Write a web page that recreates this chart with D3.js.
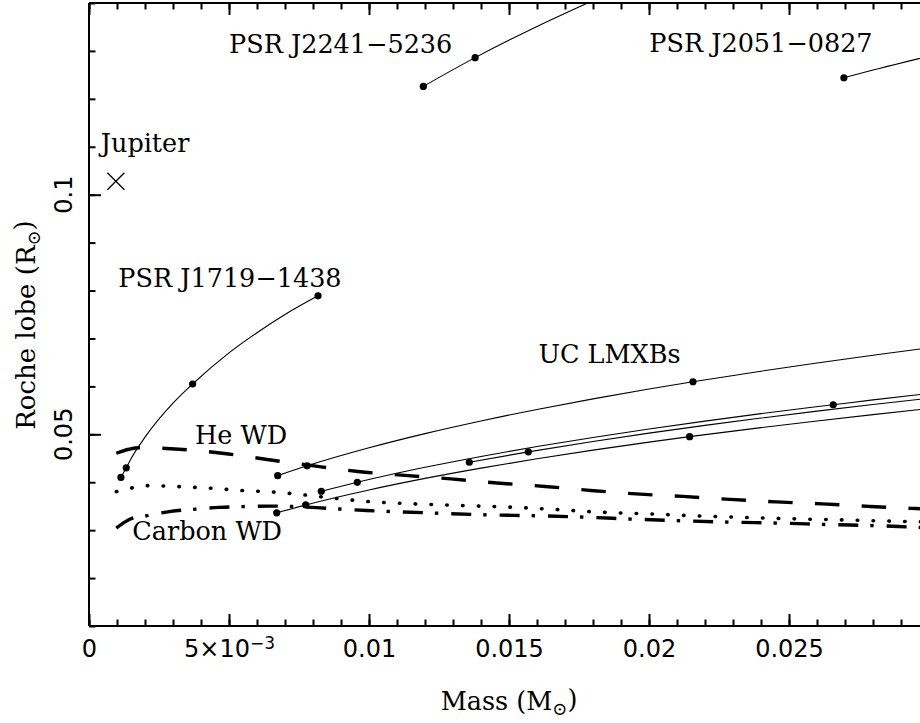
<!DOCTYPE html>
<html><head><meta charset="utf-8">
<script src="https://cdn.jsdelivr.net/npm/d3@7"></script>
<style>body{margin:0;background:#fff} svg{display:block;background:#fff}</style>
</head><body><svg id="c" width="920" height="723"></svg>
<script>
// ---- data (mass in Msun, Roche lobe in Rsun) ----
const xTickValues = [0, 0.005, 0.01, 0.015, 0.02, 0.025];
const xTickLabels = ["0", "5×10|−3", "0.01", "0.015", "0.02", "0.025"];
const yTickValues = [0.05, 0.1];
const yTickLabels = ["0.05", "0.1"];

const jupiter = [[0.00096, 0.1028]];

const psrJ1719 = [[0.00114,0.0410],[0.00133,0.0430],[0.0015,0.0449],[0.002,0.0494],[0.003,0.0565],[0.0037,0.0605],[0.005,0.0670],[0.006,0.0712],[0.007,0.0750],[0.00818,0.0789]];
const psrJ1719Dots = [[0.00114,0.0410],[0.00133,0.0430],[0.0037,0.0605],[0.00818,0.0789]];

const psrJ2241 = [[0.01194,0.1226],[0.01379,0.1286],[0.016,0.1351],[0.018,0.1405]];
const psrJ2241Dots = [[0.01194,0.1226],[0.01379,0.1286]];

const psrJ2051 = [[0.02696,0.1244],[0.028,0.1260],[0.030,0.1289]];
const psrJ2051Dots = [[0.02696,0.1244]];

const ucA = [[0.00674,0.04137],[0.00779,0.04342],[0.010,0.04718],[0.012,0.05014],[0.014,0.05278],[0.016,0.05518],[0.018,0.05739],[0.020,0.05945],[0.02157,0.06097],[0.024,0.06317],[0.026,0.06488],[0.028,0.0665],[0.030,0.06805]];
const ucADots = [[0.00674,0.04137],[0.00779,0.04342],[0.02157,0.06097]];
const ucB = [[0.008296,0.03812],[0.009582,0.03999],[0.012,0.04311],[0.014,0.04538],[0.016,0.04745],[0.018,0.04935],[0.020,0.05111],[0.022,0.05276],[0.024,0.05432],[0.02658,0.05617],[0.028,0.05718],[0.030,0.05851]];
const ucBDots = [[0.008296,0.03812],[0.009582,0.03999],[0.02658,0.05617]];
const ucC = [[0.013582,0.04417],[0.01569,0.04634],[0.018,0.04851],[0.020,0.05024],[0.022,0.05187],[0.024,0.05339],[0.026,0.05484],[0.028,0.05621],[0.030,0.05751]];
const ucCDots = [[0.013582,0.04417],[0.01569,0.04634]];
const ucD = [[0.006704,0.03361],[0.00774,0.03526],[0.010,0.03839],[0.012,0.0408],[0.014,0.04295],[0.016,0.0449],[0.018,0.0467],[0.020,0.04837],[0.02145,0.04951],[0.024,0.0514],[0.026,0.05279],[0.028,0.05411],[0.030,0.05537]];
const ucDDots = [[0.006704,0.03361],[0.00774,0.03526],[0.02145,0.04951]];

const heWD = [[0.000975,0.04604],[0.00143,0.04688],[0.00179,0.04721],[0.00307,0.04694],[0.00468,0.0461],[0.00636,0.04475],[0.00804,0.0434],[0.00961,0.04225],[0.01129,0.04142],[0.01293,0.04069],[0.01457,0.03985],[0.01629,0.03912],[0.01789,0.0383],[0.01954,0.03756],[0.02121,0.03704],[0.02289,0.03642],[0.02454,0.0359],[0.02618,0.03548],[0.02786,0.03496],[0.02939,0.03454],[0.030,0.0344]];
const midWD = [[0.000975,0.03804],[0.00149,0.03875],[0.00208,0.03929],[0.00321,0.03908],[0.00435,0.03875],[0.00551,0.03825],[0.00667,0.03792],[0.0078,0.03729],[0.00901,0.03650],[0.0099,0.03600],[0.01164,0.03548],[0.01339,0.03512],[0.01504,0.03480],[0.01657,0.03435],[0.01825,0.03375],[0.01996,0.0334],[0.02171,0.03298],[0.0235,0.03263],[0.02529,0.03235],[0.027,0.03212],[0.02932,0.03179],[0.030,0.0317]];
const carbonWD = [[0.000975,0.03042],[0.00129,0.03173],[0.00155,0.0325],[0.00208,0.03304],[0.00292,0.03392],[0.00381,0.03438],[0.00464,0.03475],[0.00548,0.03492],[0.00643,0.03502],[0.0073,0.03492],[0.00813,0.0347],[0.00896,0.0344],[0.00992,0.0341],[0.01075,0.0339],[0.01246,0.03354],[0.0142,0.03319],[0.01599,0.03300],[0.01771,0.03271],[0.01948,0.03229],[0.02123,0.03194],[0.02295,0.03167],[0.02468,0.03146],[0.0264,0.03117],[0.02819,0.03092],[0.02944,0.03062],[0.030,0.0305]];

const annotations = [
  {text:"PSR J2241−5236", m:0.005, r:0.12965},
  {text:"PSR J2051−0827", m:0.02001, r:0.1297},
  {text:"Jupiter", m:0.00042, r:0.10888},
  {text:"PSR J1719−1438", m:0.001046, r:0.08075},
  {text:"UC LMXBs", m:0.01605, r:0.06479},
  {text:"He WD", m:0.003786, r:0.0480},
  {text:"Carbon WD", m:0.001546, r:0.0280}
];

// ---- layout ----
const svg = d3.select("#c");
const L = 89, R = 929, T = 3, B = 626;
const x = d3.scaleLinear().domain([0, 0.03]).range([L, R]);
const y = d3.scaleLinear().domain([0.01, 0.14]).range([B, T]);
const serif = "'DejaVu Serif', serif";
const sans = "'DejaVu Sans', sans-serif";

svg.append("rect").attr("width",920).attr("height",723).attr("fill","#fff");
svg.append("defs").append("clipPath").attr("id","clip")
  .append("rect").attr("x",L).attr("y",T).attr("width",R-L).attr("height",B-T);

const plot = svg.append("g").attr("clip-path","url(#clip)");
const line = d3.line().x(d=>x(d[0])).y(d=>y(d[1])).curve(d3.curveMonotoneX);

// thin curves
[psrJ1719, psrJ2241, psrJ2051, ucA, ucB, ucC, ucD].forEach(s=>{
  plot.append("path").attr("d", line(s)).attr("fill","none").attr("stroke","#000").attr("stroke-width",1.1);
});
// WD curves
plot.append("path").attr("d", line(heWD)).attr("fill","none").attr("stroke","#000")
  .attr("stroke-width",3.4).attr("stroke-dasharray","24.5 22.3");
plot.append("path").attr("d", line(midWD)).attr("fill","none").attr("stroke","#000")
  .attr("stroke-width",3.6).attr("stroke-linecap","round").attr("stroke-dasharray","0.5 15.3");
plot.append("path").attr("d", line(carbonWD)).attr("fill","none").attr("stroke","#000")
  .attr("stroke-width",3.4).attr("stroke-dasharray","20 12 3.4 13");

// dots
[psrJ1719Dots, psrJ2241Dots, psrJ2051Dots, ucADots, ucBDots, ucCDots, ucDDots].forEach(s=>{
  plot.selectAll(null).data(s).enter().append("circle")
    .attr("cx",d=>x(d[0])).attr("cy",d=>y(d[1])).attr("r",3.6).attr("fill","#000");
});

// Jupiter cross
plot.selectAll(null).data(jupiter).enter().append("path")
  .attr("transform", d=>`translate(${x(d[0])},${y(d[1])})`)
  .attr("d", d3.symbol(d3.symbolX, 190)())
  .attr("fill","none").attr("stroke","#000").attr("stroke-width",1.3);

// annotations
svg.selectAll(null).data(annotations).enter().append("text")
  .attr("x", d=>x(d.m)).attr("y", d=>y(d.r))
  .attr("font-family", serif).attr("font-size", 25.5).attr("fill","#000")
  .text(d=>d.text);

// ---- axes ----
const axisStyle = g => { g.select(".domain").remove(); g.selectAll("line").attr("stroke","#000").attr("stroke-width",2); };
const xMinor = d3.range(0, 31).map(i=>i*0.001);
const yMinor = d3.range(1, 15).map(i=>i*0.01);

// bottom
svg.append("g").attr("transform",`translate(0,${B})`)
  .call(d3.axisBottom(x).tickValues(xMinor).tickSize(-6.5).tickFormat(""))
  .call(axisStyle);
const bottomMajor = svg.append("g").attr("transform",`translate(0,${B})`)
  .call(d3.axisBottom(x).tickValues(xTickValues.concat([0.03])).tickSize(-12).tickPadding(10.5)
    .tickFormat((d,i)=>xTickLabels[i] || ""))
  .call(axisStyle);
bottomMajor.selectAll("text").attr("font-family", sans).attr("font-size", 24).attr("fill","#000")
  .attr("dy","0.85em")
  .each(function(){
    const t = d3.select(this), s = t.text();
    if (s.includes("|")) {
      const [base, sup] = s.split("|");
      t.text("");
      t.append("tspan").text(base);
      t.append("tspan").attr("dy","-0.45em").attr("font-size",17).text(sup);
    }
  });
// top
svg.append("g").attr("transform",`translate(0,${T})`)
  .call(d3.axisTop(x).tickValues(xMinor).tickSize(-6.5).tickFormat(""))
  .call(axisStyle);
svg.append("g").attr("transform",`translate(0,${T})`)
  .call(d3.axisTop(x).tickValues(xTickValues.concat([0.03])).tickSize(-12).tickFormat(""))
  .call(axisStyle);
// left
svg.append("g").attr("transform",`translate(${L},0)`)
  .call(d3.axisLeft(y).tickValues(yMinor).tickSize(-6.5).tickFormat(""))
  .call(axisStyle);
svg.append("g").attr("transform",`translate(${L},0)`)
  .call(d3.axisLeft(y).tickValues(yTickValues).tickSize(-12).tickFormat(""))
  .call(axisStyle);
svg.selectAll(null).data(yTickValues).enter().append("text")
  .attr("transform", d=>`translate(72,${y(d)}) rotate(-90)`)
  .attr("text-anchor","middle").attr("font-family", sans).attr("font-size",24).attr("fill","#000")
  .text((d,i)=>yTickLabels[i]);

// frame lines
svg.append("line").attr("x1",L).attr("x2",L).attr("y1",T).attr("y2",B).attr("stroke","#000").attr("stroke-width",2);
svg.append("line").attr("x1",L).attr("x2",R).attr("y1",B).attr("y2",B).attr("stroke","#000").attr("stroke-width",2);
svg.append("line").attr("x1",L).attr("x2",R).attr("y1",T).attr("y2",T).attr("stroke","#000").attr("stroke-width",2);

// axis titles
const xt = svg.append("text").attr("x", (L+R)/2 - 0).attr("y", 710)
  .attr("text-anchor","middle").attr("font-family", serif).attr("font-size",25.5).attr("fill","#000");
xt.append("tspan").text("Mass (M");
xt.append("tspan").attr("dy","0.3em").attr("font-size",18).text("⊙");
xt.append("tspan").attr("dy","-0.3em").text(")");

const yt = svg.append("text").attr("transform", `translate(35,325) rotate(-90)`)
  .attr("text-anchor","middle").attr("font-family", serif).attr("font-size",26).attr("fill","#000");
yt.append("tspan").text("Roche lobe (R");
yt.append("tspan").attr("dy","0.3em").attr("font-size",18).text("⊙");
yt.append("tspan").attr("dy","-0.3em").text(")");
</script>
</body></html>
